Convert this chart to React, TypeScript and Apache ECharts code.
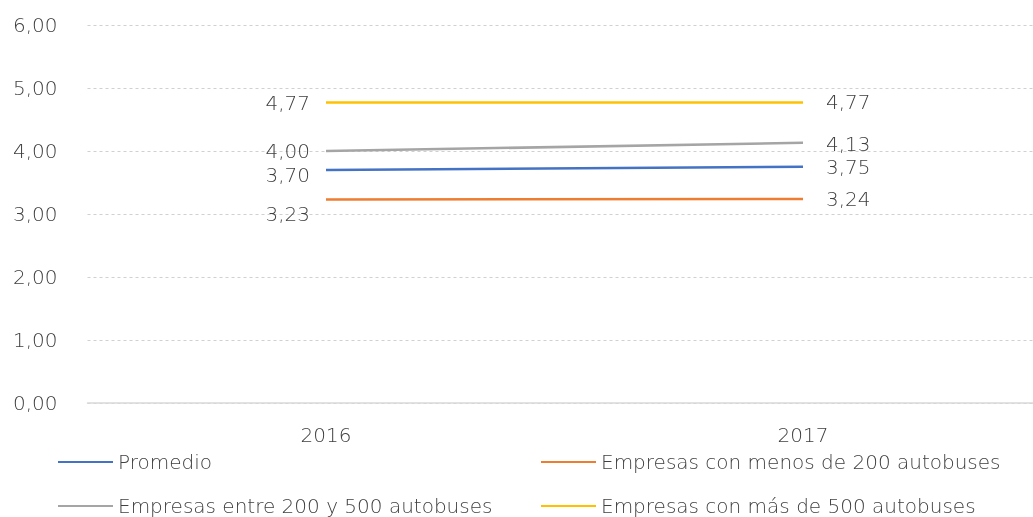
import React, { useEffect, useRef } from "react";
import * as echarts from "echarts";

const categories = ["2016", "2017"];
const seriesNames = [
  "Promedio",
  "Empresas con menos de 200 autobuses",
  "Empresas entre 200 y 500 autobuses",
  "Empresas con más de 500 autobuses",
];
const promedio = [3.7, 3.75];
const menos200 = [3.23, 3.24];
const entre200y500 = [4.0, 4.13];
const mas500 = [4.77, 4.77];
const yTicks = [0, 1, 2, 3, 4, 5, 6];

const colors = ["#4472C4", "#ED7D31", "#A5A5A5", "#FFC000"];
// vertical offsets of the 2016 labels (left side) and 2017 labels (right side)
const leftOffsets = [5, 14, 0, 1];
const rightOffsets = [0, 0, 1, 0];

const FONT = "DejaVu Sans";
const TXT = "#404040";
const FS = 20;
const FW = 200;

const fmt = (v: number) => v.toFixed(2).replace(".", ",");

export default function App() {
  const ref = useRef<HTMLDivElement>(null);
  useEffect(() => {
    if (!ref.current) return;
    const chart = echarts.init(ref.current, undefined, { renderer: "svg" });
    const allData = [promedio, menos200, entre200y500, mas500];
    const series = allData.map((vals, i) => ({
      name: seriesNames[i],
      type: "line",
      symbol: "circle",
      symbolSize: 0,
      showSymbol: true,
      color: colors[i],
      lineStyle: { width: 2.5, color: colors[i] },
      label: { show: true },
      data: vals.map((v, j) => ({
        value: v,
        label: {
          show: true,
          position: j === 0 ? "left" : "right",
          distance: j === 0 ? 16 : 23,
          offset: [0, j === 0 ? leftOffsets[i] : rightOffsets[i]],
          formatter: (p: any) => fmt(p.value),
          color: TXT,
          fontSize: FS,
          lineHeight: 19,
          fontWeight: FW,
          fontFamily: FONT,
        },
      })),
    }));
    const legendPos = [
      { left: 53, top: 445 },
      { left: 536, top: 445 },
      { left: 53, top: 489 },
      { left: 536, top: 489 },
    ];
    chart.setOption({
      animation: false,
      grid: {
        left: 87.5,
        width: 954,
        top: 25,
        bottom: 114,
        containLabel: false,
        outerBoundsMode: "none",
      },
      xAxis: {
        type: "category",
        data: categories,
        boundaryGap: true,
        axisLine: { lineStyle: { color: "#D9D9D9", width: 1.5 } },
        axisTick: { show: false },
        axisLabel: { color: TXT, fontSize: FS, fontWeight: FW, fontFamily: FONT, margin: 22 },
      },
      yAxis: {
        type: "value",
        min: yTicks[0],
        max: yTicks[yTicks.length - 1],
        interval: 1,
        axisLine: { show: false },
        axisTick: { show: false },
        axisLabel: {
          color: TXT,
          fontSize: FS,
          fontWeight: FW,
          fontFamily: FONT,
          margin: 30,
          formatter: (v: number) => fmt(v),
        },
        splitLine: { lineStyle: { color: "#D0D0D0", type: [3, 3], width: 1 } },
      },
      legend: seriesNames.map((n, i) => ({
        data: [n],
        left: legendPos[i].left,
        top: legendPos[i].top,
        icon: "rect",
        itemWidth: 55,
        itemHeight: 2,
        textStyle: { color: TXT, fontSize: FS, fontWeight: FW, fontFamily: FONT, lineHeight: 24 },
        selectedMode: false,
      })),
      series,
    });
    return () => chart.dispose();
  }, []);
  return (
    <div
      ref={ref}
      style={{ position: "fixed", left: 0, top: 0, width: 1033, height: 517 }}
    />
  );
}
